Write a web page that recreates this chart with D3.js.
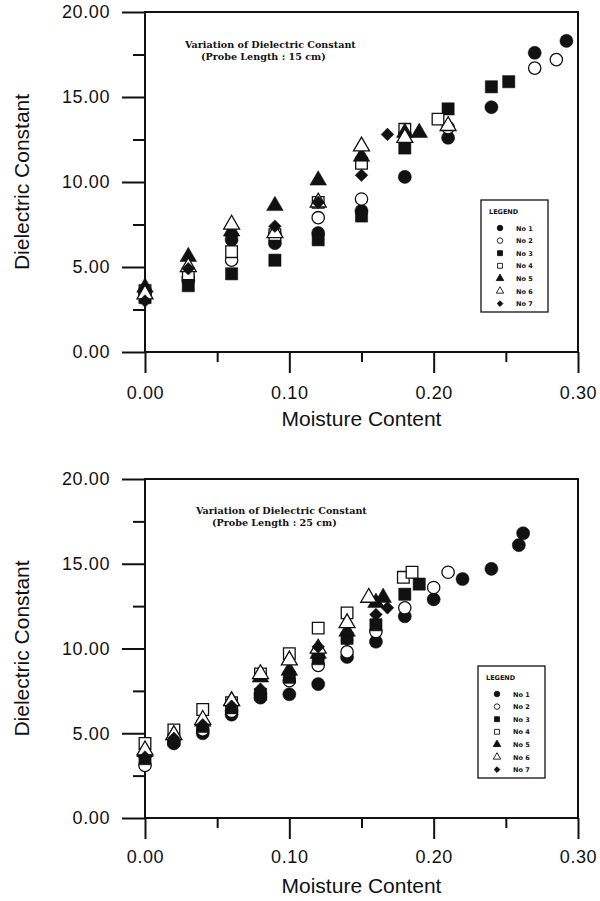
<!DOCTYPE html>
<html>
<head>
<meta charset="utf-8">
<script src="https://cdn.jsdelivr.net/npm/d3@7"></script>
<style>
  body { margin: 0; background: #fff; }
  svg { display: block; }
</style>
</head>
<body>
<script>
// tick values shared by both panels
var xTicks = [0, 0.1, 0.2, 0.3];
var xMinor = [0.05, 0.15, 0.25];
var yTicks = [0, 5, 10, 15, 20];
var yMinor = [2.5, 7.5, 12.5, 17.5];

var seriesNames = ["No 1", "No 2", "No 3", "No 4", "No 5", "No 6", "No 7"];

// probe length 15 cm : [moisture, dielectric]
var no1_15 = [[0, 3.5], [0.03, 4.2], [0.06, 6.6], [0.09, 6.4], [0.12, 7.0], [0.15, 8.3], [0.18, 10.3], [0.21, 12.6], [0.24, 14.4], [0.27, 17.6], [0.292, 18.3]];
var no2_15 = [[0, 3.3], [0.03, 4.4], [0.06, 5.4], [0.09, 6.9], [0.12, 7.9], [0.15, 9.0], [0.18, 12.8], [0.21, 13.2], [0.27, 16.7], [0.285, 17.2]];
var no3_15 = [[0, 3.2], [0.03, 3.9], [0.06, 4.6], [0.09, 5.4], [0.12, 6.6], [0.15, 8.0], [0.18, 12.0], [0.21, 14.3], [0.24, 15.6], [0.252, 15.9]];
var no4_15 = [[0, 3.6], [0.03, 4.6], [0.06, 5.9], [0.09, 6.9], [0.12, 8.8], [0.15, 11.1], [0.18, 13.1], [0.203, 13.7]];
var no5_15 = [[0, 3.8], [0.03, 5.6], [0.06, 7.1], [0.09, 8.6], [0.12, 10.1], [0.15, 11.5], [0.18, 12.9], [0.19, 12.9]];
var no6_15 = [[0, 3.4], [0.03, 5.0], [0.06, 7.5], [0.09, 7.0], [0.12, 8.8], [0.15, 12.1], [0.18, 12.6], [0.21, 13.3]];
var no7_15 = [[0, 3.0], [0.03, 4.9], [0.06, 6.8], [0.09, 7.4], [0.12, 8.8], [0.15, 10.4], [0.168, 12.8]];

// probe length 25 cm
var no1_25 = [[0, 3.7], [0.02, 4.4], [0.04, 5.0], [0.06, 6.1], [0.08, 7.1], [0.10, 7.3], [0.12, 7.9], [0.14, 9.5], [0.16, 10.4], [0.18, 11.9], [0.20, 12.9], [0.22, 14.1], [0.24, 14.7], [0.259, 16.1], [0.262, 16.8]];
var no2_25 = [[0, 3.1], [0.02, 4.6], [0.04, 5.2], [0.06, 6.3], [0.08, 7.3], [0.10, 8.1], [0.12, 9.0], [0.14, 9.8], [0.16, 11.0], [0.18, 12.4], [0.20, 13.6], [0.21, 14.5]];
var no3_25 = [[0, 3.5], [0.02, 4.6], [0.04, 5.4], [0.06, 6.5], [0.08, 7.3], [0.10, 8.3], [0.12, 9.4], [0.14, 10.6], [0.16, 11.4], [0.18, 13.2], [0.19, 13.8]];
var no4_25 = [[0, 4.4], [0.02, 5.2], [0.04, 6.4], [0.06, 6.8], [0.08, 8.5], [0.10, 9.7], [0.12, 11.2], [0.14, 12.1], [0.179, 14.2], [0.185, 14.5]];
var no5_25 = [[0, 3.9], [0.02, 4.9], [0.04, 5.7], [0.06, 6.9], [0.08, 8.3], [0.10, 8.7], [0.12, 9.7], [0.14, 11.0], [0.16, 12.7], [0.165, 13.0]];
var no6_25 = [[0, 4.0], [0.02, 4.9], [0.04, 5.8], [0.06, 6.9], [0.08, 8.5], [0.10, 9.3], [0.12, 10.0], [0.14, 11.5], [0.155, 13.0]];
var no7_25 = [[0, 3.6], [0.02, 4.7], [0.04, 5.5], [0.06, 6.6], [0.08, 7.6], [0.10, 8.5], [0.12, 10.1], [0.14, 10.5], [0.16, 12.0], [0.168, 12.4]];

var W = 600, H = 901;
var left = 145, right = 578;

// marker style per series: shape + filled or open (No 7 is a square turned 45deg)
var shapes = [d3.symbolCircle, d3.symbolCircle, d3.symbolSquare, d3.symbolSquare, d3.symbolTriangle, d3.symbolTriangle, d3.symbolSquare];
var filled = [true, false, true, false, true, false, true];
var sizes = [135, 120, 150, 135, 120, 110, 80];
var turn = [0, 0, 0, 0, 0, 0, 45];

var svg = d3.select("body").append("svg")
    .attr("width", W)
    .attr("height", H);

function drawPanel(series, top, bottom, title, legendPos, titlePos, xLabY, xTitleY) {
  var x = d3.scaleLinear().domain([0, 0.3]).range([left, right]);
  var y = d3.scaleLinear().domain([0, 20]).range([bottom, top]);
  var g = svg.append("g");

  // y axis, major + minor ticks
  var yAx = g.append("g").attr("transform", "translate(" + left + ",0)")
      .call(d3.axisLeft(y).tickValues(yTicks).tickSize(23).tickPadding(12)
            .tickFormat(d3.format(".2f")));
  yAx.selectAll("text").attr("font-size", 18).attr("letter-spacing", 0.6)
      .attr("font-family", "Arial, 'Liberation Sans', sans-serif").attr("fill", "#111");
  g.append("g").attr("transform", "translate(" + left + ",0)")
      .call(d3.axisLeft(y).tickValues(yMinor).tickSize(12).tickFormat(""));

  // x axis
  var xAx = g.append("g").attr("transform", "translate(0," + bottom + ")")
      .call(d3.axisBottom(x).tickValues(xTicks).tickSize(21).tickPadding(xLabY)
            .tickFormat(d3.format(".2f")));
  xAx.selectAll("text").attr("font-size", 18).attr("letter-spacing", 0.6)
      .attr("font-family", "Arial, 'Liberation Sans', sans-serif").attr("fill", "#111");
  g.append("g").attr("transform", "translate(0," + bottom + ")")
      .call(d3.axisBottom(x).tickValues(xMinor).tickSize(10).tickFormat(""));

  g.selectAll(".domain").remove();
  g.selectAll(".tick line").attr("stroke", "#111").attr("stroke-width", 2);

  // frame
  g.append("rect")
      .attr("x", left).attr("y", top)
      .attr("width", right - left).attr("height", bottom - top)
      .attr("fill", "none").attr("stroke", "#111").attr("stroke-width", 2);

  // axis titles
  g.append("text")
      .attr("transform", "translate(29," + ((top + bottom) / 2) + ") rotate(-90)")
      .attr("text-anchor", "middle")
      .attr("font-family", "Arial, 'Liberation Sans', sans-serif")
      .attr("font-size", 21).attr("fill", "#111")
      .text("Dielectric Constant");
  g.append("text")
      .attr("x", (left + right) / 2).attr("y", xTitleY)
      .attr("text-anchor", "middle")
      .attr("font-family", "Arial, 'Liberation Sans', sans-serif")
      .attr("font-size", 21).attr("fill", "#111")
      .text("Moisture Content");

  // inner title
  var t = g.append("text")
      .attr("font-family", "'DejaVu Serif', serif")
      .attr("font-weight", "bold").attr("font-size", 9.6).attr("fill", "#111");
  t.append("tspan").attr("x", titlePos[0]).attr("y", titlePos[1]).text(title[0]);
  t.append("tspan").attr("x", titlePos[0] + 16).attr("y", titlePos[1] + 12).text(title[1]);

  // points
  series.forEach(function(pts, i) {
    g.append("g").selectAll("path")
        .data(pts)
        .enter()
        .append("path")
        .attr("transform", function(d) {
          return "translate(" + x(d[0]) + "," + y(d[1]) + ") rotate(" + turn[i] + ")";
        })
        .attr("d", d3.symbol().type(shapes[i]).size(sizes[i]))
        .attr("fill", filled[i] ? "#111" : "#fff")
        .attr("stroke", "#111")
        .attr("stroke-width", filled[i] ? 0.5 : 1.3);
  });

  // legend
  var lg = g.append("g").attr("transform", "translate(" + legendPos[0] + "," + legendPos[1] + ")");
  lg.append("rect").attr("width", 67).attr("height", 112)
      .attr("fill", "#fff").attr("stroke", "#111").attr("stroke-width", 1.3);
  lg.append("text").attr("x", 8).attr("y", 14)
      .attr("font-family", "'DejaVu Sans', sans-serif").attr("font-weight", "bold")
      .attr("font-size", 6.5).attr("fill", "#111").text("LEGEND");
  seriesNames.forEach(function(name, i) {
    var ly = 28 + i * 12.6;
    lg.append("path")
        .attr("transform", "translate(19," + ly + ") rotate(" + turn[i] + ")")
        .attr("d", d3.symbol().type(shapes[i]).size(i === 6 ? 16 : 24))
        .attr("fill", filled[i] ? "#111" : "#fff")
        .attr("stroke", "#111").attr("stroke-width", 0.9);
    lg.append("text").attr("x", 35).attr("y", ly + 2.5)
        .attr("font-family", "'DejaVu Sans', sans-serif").attr("font-weight", "bold")
        .attr("font-size", 6.5).attr("fill", "#111").text(name);
  });
}

drawPanel([no1_15, no2_15, no3_15, no4_15, no5_15, no6_15, no7_15], 12, 352,
    ["Variation of Dielectric Constant", "(Probe Length : 15 cm)"],
    [481, 200], [185, 48], 13, 426);

drawPanel([no1_25, no2_25, no3_25, no4_25, no5_25, no6_25, no7_25], 479, 818,
    ["Variation of Dielectric Constant", "(Probe Length : 25 cm)"],
    [478, 666], [196, 514], 11, 893);
</script>
</body>
</html>
